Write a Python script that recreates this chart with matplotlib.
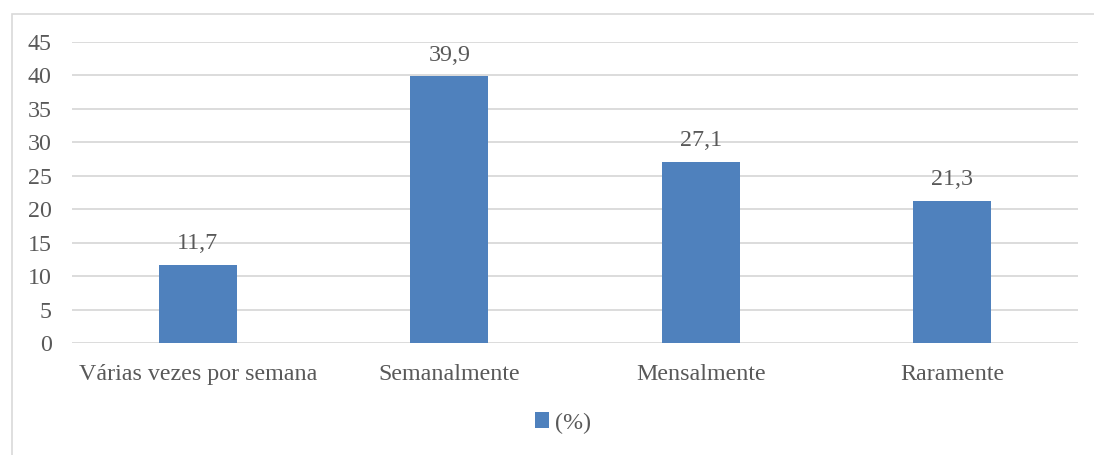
import matplotlib
matplotlib.use("Agg")
import matplotlib.pyplot as plt
from matplotlib.patches import Rectangle

categories = ["Várias vezes por semana", "Semanalmente", "Mensalmente", "Raramente"]
values = [11.7, 39.9, 27.1, 21.3]
value_labels = ["11,7", "39,9", "27,1", "21,3"]
series_name = "(%)"
yticks = [0, 5, 10, 15, 20, 25, 30, 35, 40, 45]

plt.rcParams["font.family"] = ["Liberation Serif", "DejaVu Serif"]
text_color = "#595959"
bar_color = "#4F81BD"
grid_color = "#D9D9D9"
fs = 17.3

W, H = 1094, 455
fig = plt.figure(figsize=(W / 100, H / 100), dpi=100)

# outer chart frame (extends past right/bottom edge)
fig.patches.append(Rectangle((11.5 / W, -0.1), 1.2, 1 - 13.5 / H + 0.1,
                             transform=fig.transFigure, fill=False,
                             edgecolor="#D9D9D9", linewidth=1.2))

left, right = 72 / W, 1078 / W
top, bottom = 1 - 42 / H, 1 - 343 / H
ax = fig.add_axes([left, bottom, right - left, top - bottom])

x = range(len(categories))
bars = ax.bar(x, values, width=0.31, color=bar_color, zorder=3, label=series_name)
ax.set_xlim(-0.5, len(categories) - 0.5)
ax.set_ylim(0, 45)
ax.set_yticks(yticks)
ax.set_yticklabels([str(t) for t in yticks], fontsize=fs, color=text_color)
ax.set_xticks(list(x))
ax.set_xticklabels(categories, fontsize=fs, color=text_color)
ax.tick_params(axis="both", length=0)
ax.tick_params(axis="y", pad=14.5)
ax.tick_params(axis="x", pad=15)
ax.grid(axis="y", color=grid_color, linewidth=1.3, zorder=0)
ax.set_axisbelow(True)
for s in ax.spines.values():
    s.set_visible(False)

for b, lab in zip(bars, value_labels):
    ax.annotate(lab, (b.get_x() + b.get_width() / 2, b.get_height()),
                xytext=(0, 7.5), textcoords="offset points",
                ha="center", va="bottom", fontsize=fs, color=text_color)

leg = fig.legend(handles=[bars], labels=[series_name], loc="center",
                 bbox_to_anchor=(563 / W, 1 - 423 / H), frameon=False,
                 fontsize=fs, handlelength=0.6, handleheight=0.6,
                 handletextpad=0.25, labelcolor=text_color)

fig.savefig("out.png", dpi=100)
